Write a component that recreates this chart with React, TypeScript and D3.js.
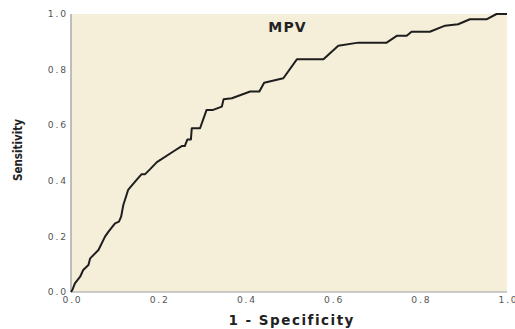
import React from 'react'
import * as d3 from 'd3'

// ROC curve for MPV
const fpr = [0, 0.003, 0.009, 0.021, 0.028, 0.04, 0.044, 0.063, 0.078, 0.086, 0.101, 0.11, 0.115, 0.12, 0.131, 0.147, 0.162, 0.17, 0.181, 0.197, 0.239, 0.254, 0.261, 0.267, 0.275, 0.277, 0.296, 0.311, 0.326, 0.346, 0.35, 0.369, 0.411, 0.432, 0.443, 0.487, 0.518, 0.579, 0.613, 0.659, 0.724, 0.748, 0.77, 0.781, 0.823, 0.858, 0.888, 0.915, 0.953, 0.976, 1]
const tpr = [0, 0.007, 0.031, 0.055, 0.079, 0.097, 0.121, 0.151, 0.199, 0.217, 0.247, 0.253, 0.271, 0.313, 0.367, 0.397, 0.424, 0.424, 0.441, 0.467, 0.51, 0.525, 0.525, 0.549, 0.549, 0.589, 0.589, 0.655, 0.655, 0.667, 0.693, 0.697, 0.721, 0.721, 0.753, 0.769, 0.837, 0.837, 0.886, 0.897, 0.897, 0.922, 0.922, 0.936, 0.936, 0.958, 0.963, 0.981, 0.981, 1, 1]
const xTicks = [0, 0.2, 0.4, 0.6, 0.8, 1.0]
const yTicks = [0, 0.2, 0.4, 0.6, 0.8, 1.0]
const title = 'MPV'
const xTitle = '1 - Specificity'
const yTitle = 'Sensitivity'

const W = 515, H = 329
const margin = {top: 14, right: 8, bottom: 37, left: 71}

export default function App() {
    const x = d3.scaleLinear().domain([0, 1]).range([margin.left, W - margin.right])
    const y = d3.scaleLinear().domain([0, 1]).range([H - margin.bottom, margin.top])
    const pts: [number, number][] = fpr.map((f, i) => [f, tpr[i]])
    const line = d3.line<[number, number]>().x(d => x(d[0])).y(d => y(d[1]))
    const ls = 1.8
    const tickFont = {fontFamily: 'DejaVu Sans', fontSize: 9.2, letterSpacing: ls, fill: '#555'}

    return (
        <div style={{position: 'absolute', left: 0, top: 0}}>
            <svg width={W} height={H} style={{display: 'block'}}>
                <rect x={0} y={0} width={W} height={H} fill="#fff" />
                <rect x={x(0)} y={y(1)} width={x(1) - x(0)} height={y(0) - y(1)} fill="#f5eed9" />
                <line x1={x(0)} x2={x(0)} y1={y(1)} y2={y(0)} stroke="#aaa" strokeWidth={1.5} />
                <line x1={x(0)} x2={x(1)} y1={y(0)} y2={y(0)} stroke="#bbb" strokeWidth={1.5} />
                <path d={line(pts) || ''} fill="none" stroke="#1e1e1e" strokeWidth={2} strokeLinejoin="round" />
                {yTicks.map(t => (
                    <text key={'y' + t} x={x(0) - 5 + ls} y={y(t)} dy="0.35em" textAnchor="end" style={tickFont}>{d3.format('.1f')(t)}</text>
                ))}
                {xTicks.map(t => (
                    <text key={'x' + t} x={x(t) + 0.6 + ls / 2} y={y(0) + 11} textAnchor="middle" style={tickFont}>{d3.format('.1f')(t)}</text>
                ))}
                <text x={287 + 0.6} y={32} textAnchor="middle" fontFamily="DejaVu Sans" fontWeight="bold" fontSize={14} letterSpacing={1.2} fill="#222">{title}</text>
                <text x={291 + 0.7} y={325} textAnchor="middle" fontFamily="DejaVu Sans" fontWeight="bold" fontSize={13.5} letterSpacing={1.5} fill="#222">{xTitle}</text>
                <text transform={`translate(22,150) rotate(-90)`} textAnchor="middle" fontFamily="DejaVu Sans Condensed, DejaVu Sans" fontWeight="bold" fontSize={11.5} fill="#222">{yTitle}</text>
            </svg>
        </div>
    )
}
